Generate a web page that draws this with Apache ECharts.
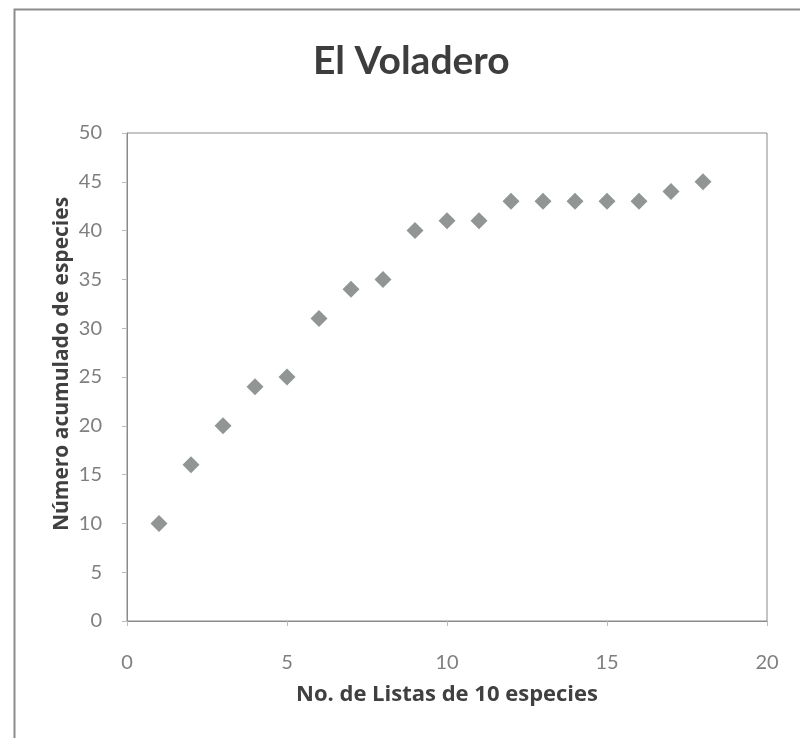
<!DOCTYPE html>
<html>
<head>
<meta charset="utf-8">
<script src="https://cdn.jsdelivr.net/npm/echarts@6/dist/echarts.min.js"></script>
<style>
html,body{margin:0;padding:0;background:#fff;}
#chart{width:800px;height:738px;}
</style>
</head>
<body>
<div id="chart"></div>
<script>
const titleText = "El Voladero";
const xAxisName = "No. de Listas de 10 especies";
const yAxisName = "Número acumulado de especies";
const listas = [1, 2, 3, 4, 5, 6, 7, 8, 9, 10, 11, 12, 13, 14, 15, 16, 17, 18];
const especies = [10, 16, 20, 24, 25, 31, 34, 35, 40, 41, 41, 43, 43, 43, 43, 43, 44, 45];

const chart = echarts.init(document.getElementById('chart'), null, {renderer: 'canvas'});
const FONT = 'Lato, "Open Sans", sans-serif';
const NAMEFONT = '"Open Sans", Lato, sans-serif';
chart.setOption({
  animation: false,
  backgroundColor: '#ffffff',
  title: {
    text: titleText,
    left: 308, top: 37,
    textStyle: {fontFamily: FONT, fontSize: 39, fontWeight: 'bold', color: '#3d3d3d'}
  },
  graphic: [{
    type: 'rect', left: 12, top: 7, silent: true,
    shape: {width: 900, height: 900},
    style: {fill: 'none', stroke: '#8c8c8c', lineWidth: 2}
  }, {
    type: 'text', x: 62, y: 364, rotation: Math.PI / 2, silent: true,
    style: {
      text: yAxisName, align: 'center', verticalAlign: 'middle',
      font: 'bold 21px "Open Sans", Lato, sans-serif', fill: '#404040'
    }
  }],
  grid: {left: 127, top: 133, right: 33, bottom: 117, show: true, borderColor: '#8a8a8a', borderWidth: 1, backgroundColor: 'transparent'},
  xAxis: {
    type: 'value', min: 0, max: 20, interval: 5,
    name: xAxisName, nameLocation: 'middle', nameGap: 63,
    nameTextStyle: {fontFamily: NAMEFONT, fontSize: 22, fontWeight: 'bold', color: '#404040'},
    axisLine: {show: true, lineStyle: {color: '#8a8a8a', width: 1}},
    axisTick: {show: true, inside: false, length: 5, lineStyle: {color: '#bbbbbb'}},
    axisLabel: {margin: 32, fontFamily: FONT, fontSize: 20, color: '#7f7f7f'},
    splitLine: {show: false}
  },
  yAxis: {
    type: 'value', min: 0, max: 50, interval: 5,
    axisLine: {show: true, lineStyle: {color: '#8a8a8a', width: 1}},
    axisTick: {show: true, inside: false, length: 5, lineStyle: {color: '#bbbbbb'}},
    axisLabel: {margin: 25, fontFamily: FONT, fontSize: 20, color: '#7f7f7f'},
    splitLine: {show: false}
  },
  series: [{
    type: 'scatter',
    symbol: 'diamond',
    symbolSize: 17,
    itemStyle: {color: '#767a7a'},
    data: listas.map((x, i) => [x, especies[i]])
  }]
});
</script>
</body>
</html>
